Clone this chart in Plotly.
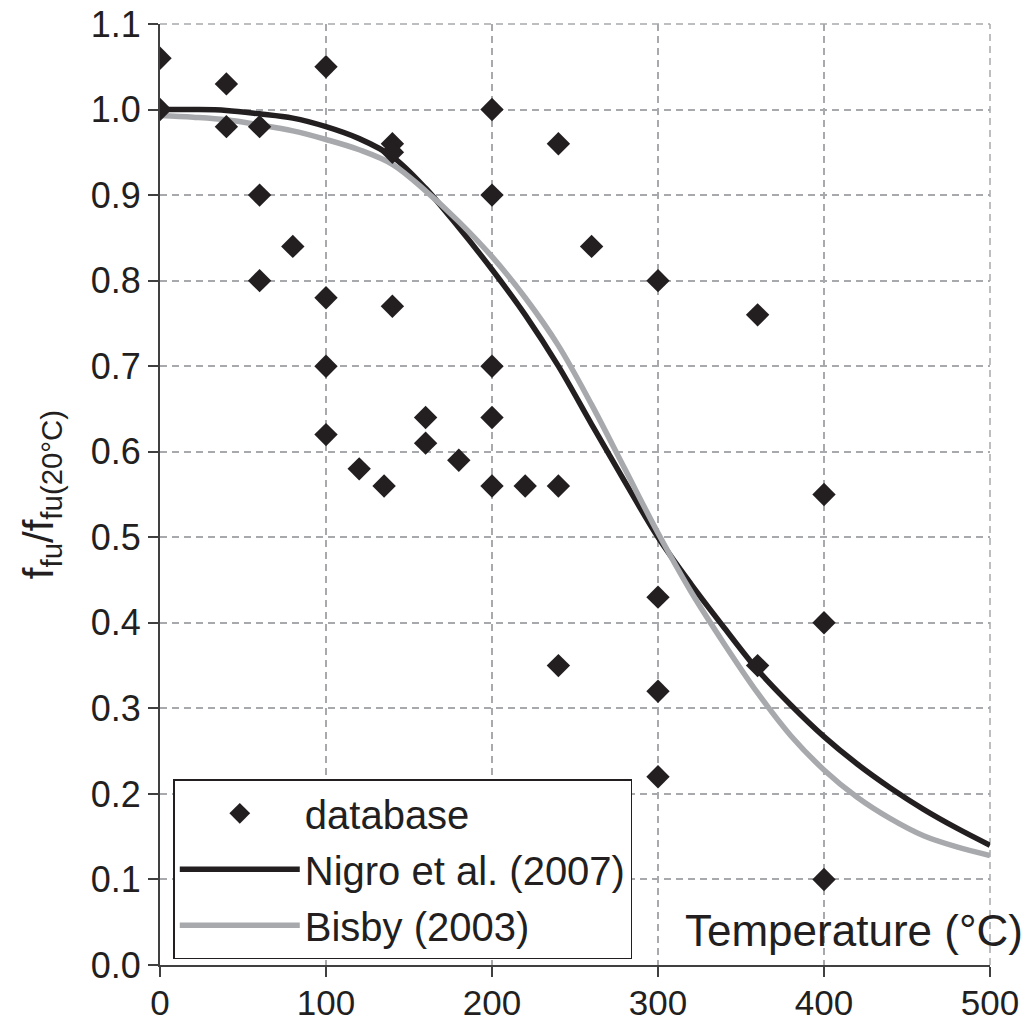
import plotly.graph_objects as go

# Database points (temperature °C, normalized strength)
db_T = [0, 0, 40, 40, 60, 60, 60, 80, 100, 100, 100, 100, 120, 135, 140, 140, 140,
        160, 160, 180, 200, 200, 200, 200, 200, 220, 240, 240, 240, 260,
        300, 300, 300, 300, 360, 360, 400, 400, 400]
db_f = [1.06, 1.00, 1.03, 0.98, 0.98, 0.90, 0.80, 0.84, 1.05, 0.78, 0.70, 0.62, 0.58, 0.56, 0.96, 0.95, 0.77,
        0.64, 0.61, 0.59, 1.00, 0.90, 0.70, 0.64, 0.56, 0.56, 0.96, 0.56, 0.35, 0.84,
        0.80, 0.43, 0.32, 0.22, 0.76, 0.35, 0.55, 0.40, 0.10]

# Curves
curve_T = [0, 20, 40, 60, 80, 100, 120, 140, 160, 180, 200, 220, 240, 260, 280, 300,
           320, 340, 360, 380, 400, 420, 440, 460, 480, 500]
nigro_f = [1.000, 1.000, 0.999, 0.995, 0.990, 0.980, 0.966, 0.945, 0.908, 0.862, 0.813, 0.760,
           0.700, 0.632, 0.565, 0.500, 0.445, 0.394, 0.345, 0.304, 0.267, 0.235, 0.207, 0.182,
           0.160, 0.140]
bisby_f = [0.993, 0.991, 0.988, 0.982, 0.975, 0.965, 0.953, 0.936, 0.905, 0.869, 0.828, 0.780,
           0.724, 0.655, 0.580, 0.505, 0.436, 0.375, 0.318, 0.268, 0.228, 0.196, 0.171, 0.151,
           0.138, 0.128]

x_ticks = [0, 100, 200, 300, 400, 500]
y_ticks = [0.0, 0.1, 0.2, 0.3, 0.4, 0.5, 0.6, 0.7, 0.8, 0.9, 1.0, 1.1]

grid_color = "#a7a9ac"
grid_dash = "7px,5px"

fig = go.Figure()
fig.add_trace(go.Scatter(x=curve_T, y=nigro_f, mode="lines", name="Nigro et al. (2007)",
                         legendrank=2, legendgroup="b",
                         line=dict(color="#231f20", width=5.5, shape="spline")))
fig.add_trace(go.Scatter(x=curve_T, y=bisby_f, mode="lines", name="Bisby (2003)",
                         legendrank=3, legendgroup="c",
                         line=dict(color="#a7a9ac", width=5.5, shape="spline")))
fig.add_trace(go.Scatter(x=db_T, y=db_f, mode="markers", name="database",
                         legendrank=1, legendgroup="a",
                         marker=dict(symbol="diamond", size=18, color="#231f20")))

font = "Liberation Sans, Arial, sans-serif"
fig.update_layout(
    width=1030, height=1025,
    margin=dict(l=152, r=48, t=16, b=68, autoexpand=False),
    plot_bgcolor="white", paper_bgcolor="white",
    font=dict(family=font, color="#231f20", size=36),
    showlegend=True,
    legend=dict(
        x=0.016, y=0.006, xanchor="left", yanchor="bottom",
        bgcolor="white", bordercolor="#231f20", borderwidth=1.5,
        font=dict(size=40, family=font, color="#231f20"),
        traceorder="grouped", itemwidth=120, tracegroupgap=1,
    ),
    xaxis=dict(
        range=[0, 500], tickvals=x_ticks, ticktext=[str(v) for v in x_ticks],
        showgrid=True, gridcolor=grid_color, griddash=grid_dash, gridwidth=1.5,
        showline=True, linecolor="#404040", linewidth=2,
        ticks="outside", ticklen=10, tickwidth=2, tickcolor="#404040",
        zeroline=False, tickfont=dict(size=35), automargin=False,
        ticklabeloverflow="allow", ticklabelstandoff=-4,
    ),
    yaxis=dict(
        range=[0, 1.1], tickvals=y_ticks, ticktext=[f"{v:.1f}" for v in y_ticks],
        showgrid=True, gridcolor=grid_color, griddash=grid_dash, gridwidth=1.5,
        showline=True, linecolor="#404040", linewidth=2,
        ticks="outside", ticklen=10, tickwidth=2, tickcolor="#404040",
        zeroline=False, tickfont=dict(size=36), automargin=False,
        ticklabeloverflow="allow",
        title=dict(text="f<sub>fu</sub>/f<sub>fu(20°C)</sub>", font=dict(size=42), standoff=24),
    ),
    shapes=[
        # grid lines at the range ends (top and right), which Plotly does not draw itself
        dict(type="line", xref="paper", yref="paper", x0=0, x1=1, y0=1, y1=1, layer="below",
             line=dict(color=grid_color, width=1.5, dash=grid_dash)),
        dict(type="line", xref="paper", yref="paper", x0=1, x1=1, y0=0, y1=1, layer="below",
             line=dict(color=grid_color, width=1.5, dash=grid_dash)),
    ],
    annotations=[dict(
        text="Temperature (°C)", xref="paper", yref="paper", x=1.042, y=0.008,
        xanchor="right", yanchor="bottom", showarrow=False,
        font=dict(size=44, family=font, color="#231f20"),
    )],
)

fig.write_html("out.html")
